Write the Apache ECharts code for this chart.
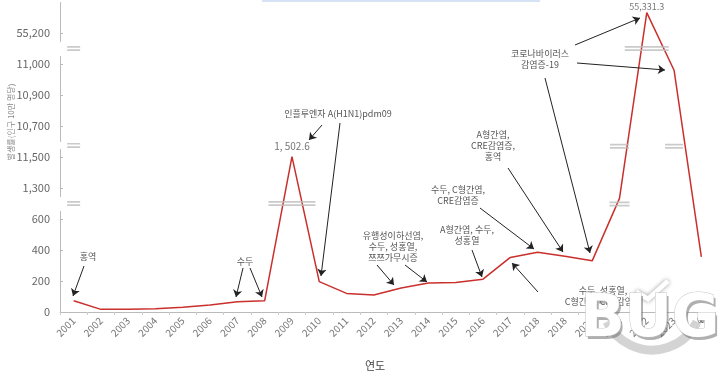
<!DOCTYPE html>
<html>
<head>
<meta charset="utf-8">
<script src="https://cdn.jsdelivr.net/npm/echarts@6/dist/echarts.min.js"></script>
<style>
  html, body { margin: 0; padding: 0; background: #fff; }
  #main { width: 723px; height: 377px; }
</style>
</head>
<body>
<div id="main"></div>
<script>
// 연도 (원본 그림의 표기 그대로)
var years = ['2001','2002','2003','2004','2005','2006','2007','2008','2009','2010','2011','2012',
             '2013','2014','2015','2016','2017','2018','2018','2020','2021','2022','2023','2024'];
// 값
var rates = [72, 17, 17, 21, 30, 45, 66, 73, 1502.6, 196, 120, 110,
             155, 187, 190, 212, 352, 385, 360, 330, 1150, 55331.3, 10960, 355];
// 점 위 라벨
var pointLabels = {8: '1, 502.6', 21: '55,331.3'};

// y축 눈금
var tickValues = [0, 200, 400, 600, 1300, 1500, 10600, 10800, 11000, 55200];
var tickLabels = ['0', '200', '400', '600', '1,300', '11,500', '10,700', '10,900', '11,000', '55,200'];

// 축 생략 구간
var axisBreaks = [
  {start: 650, end: 1250, gap: '5%'},
  {start: 1550, end: 10500, gap: '2.5%'},
  {start: 11050, end: 55150, gap: '5%'}
];
// 생략 표시(=) : [x 위치(범주 번호), 값, 폭]
var breakMarks = [
  [-0.5, 950, 13], [-0.5, 6025, 13], [-0.5, 33100, 13],
  [7.85, 950, 47], [19.9, 930, 20], [20.3, 5000, 19], [21.1, 33100, 44], [22.4, 5000, 18]
];

// 주석
var notes = [
  {text: '홍역', x: 88, y: 257},
  {text: '수두', x: 245, y: 262},
  {text: '인플루엔자 A(H1N1)pdm09', x: 338, y: 114},
  {text: '유행성이하선염,\n수두, 성홍열,\n쯔쯔가무시증', x: 393, y: 247},
  {text: 'A형간염, 수두,\n성홍열', x: 467, y: 235},
  {text: '수두, C형간염,\nCRE감염증', x: 458, y: 195},
  {text: 'A형간염,\nCRE감염증,\n홍역', x: 493, y: 146},
  {text: '수두, 성홍열,\nC형간염, CRE감염증', x: 603, y: 296},
  {text: '코로나바이러스\n감염증-19', x: 540, y: 59}
];
var arrows = [
  [[84, 266], [73, 296]],
  [[243, 268], [236, 297]],
  [[250, 268], [262, 297]],
  [[322, 125], [309, 140]],
  [[340, 123], [321, 276]],
  [[377, 265], [394, 285]],
  [[405, 265], [427, 282]],
  [[472, 250], [482, 277]],
  [[480, 208], [534, 249]],
  [[508, 168], [563, 252]],
  [[538, 292], [512, 263]],
  [[575, 45], [640, 18]],
  [[577, 63], [665, 70]],
  [[545, 78], [590, 253]]
];

var font = '"Noto Sans CJK KR", "Noto Sans", sans-serif';

var lineData = rates.map(function (v, i) {
  if (pointLabels[i]) {
    var lab = {show: true, formatter: pointLabels[i]};
    if (i === 21) {
      lab.distance = 1;
      lab.fontSize = 9;
      lab.lineHeight = 10;
    }
    return {value: v, label: lab};
  }
  return v;
});

var graphics = notes.map(function (n) {
  return {
    type: 'text', x: n.x, y: n.y, z: 10,
    style: {text: n.text, fill: '#555', font: '9px ' + font, align: 'center', verticalAlign: 'middle', lineHeight: 11}
  };
});
graphics.push({
  type: 'text', x: 375, y: 366,
  style: {text: '연도', fill: '#444', font: '11px ' + font, align: 'center', verticalAlign: 'middle'}
});
graphics.push({
  type: 'text', x: 11, y: 122, rotation: Math.PI / 2,
  style: {text: '발생률(인구 10만 명당)', fill: '#888', font: '8px ' + font, align: 'center', verticalAlign: 'middle'}
});
graphics.push({
  type: 'rect', shape: {x: 262, y: 0, width: 278, height: 2}, style: {fill: '#d5e3f4'}
});
// 워터마크
graphics.push({
  type: 'arc', z: 20,
  shape: {cx: 652, cy: 300, r: 50, startAngle: 0.45, endAngle: Math.PI - 0.45},
  style: {stroke: 'rgba(210,210,210,0.95)', lineWidth: 9, fill: null}
});
graphics.push({
  type: 'polyline', z: 21,
  shape: {points: [[636, 292], [648, 299], [668, 281]]},
  style: {stroke: '#fff', lineWidth: 5, shadowColor: 'rgba(0,0,0,0.4)', shadowBlur: 4}
});
graphics.push({
  type: 'text', x: 652, y: 324, z: 21,
  style: {text: 'BUG', fill: 'rgba(110,110,110,0.55)', font: 'bold 58px "DejaVu Sans", sans-serif',
          align: 'center', verticalAlign: 'middle'}
});
graphics.push({
  type: 'text', x: 650, y: 321, z: 22,
  style: {text: 'BUG', fill: '#fff', font: 'bold 58px "DejaVu Sans", sans-serif',
          align: 'center', verticalAlign: 'middle', stroke: 'rgba(190,190,190,0.9)', lineWidth: 1}
});

var myChart = echarts.init(document.getElementById('main'));
myChart.setOption({
  animation: false,
  backgroundColor: '#fff',
  grid: {left: 60, right: 8, top: 2, bottom: 65},
  xAxis: {
    type: 'category',
    data: years,
    axisLine: {lineStyle: {color: '#bbb'}},
    axisTick: {show: true, length: 3, lineStyle: {color: '#ccc'}},
    axisLabel: {rotate: 45, color: '#777', fontSize: 10, fontFamily: font, interval: 0, margin: 7}
  },
  yAxis: {
    type: 'value',
    min: 0,
    max: 55400,
    breaks: axisBreaks,
    breakArea: {show: false},
    axisLine: {show: true, lineStyle: {color: '#bbb'}},
    axisTick: {show: true, inside: true, length: 3, customValues: tickValues, lineStyle: {color: '#bbb'}},
    axisLabel: {
      customValues: tickValues, color: '#666', fontSize: 11, fontFamily: font, margin: 10,
      formatter: function (v) { return tickLabels[tickValues.indexOf(v)]; }
    },
    splitLine: {show: false}
  },
  series: [
    {
      type: 'line',
      data: lineData,
      symbol: 'circle',
      symbolSize: 1,
      showSymbol: true,
      itemStyle: {color: 'rgba(0,0,0,0)'},
      lineStyle: {color: '#c9302c', width: 1.5},
      label: {position: 'top', color: '#777', fontSize: 10, fontFamily: font, distance: 5},
      labelLayout: {hideOverlap: false},
      z: 3,
      markLine: {
        silent: true,
        symbol: ['none', 'arrow'],
        symbolSize: 7,
        label: {show: false},
        lineStyle: {color: '#222', width: 1, type: 'solid'},
        data: arrows.map(function (a) {
          return [{x: a[0][0], y: a[0][1]}, {x: a[1][0], y: a[1][1]}];
        })
      }
    },
    {
      type: 'scatter',
      data: breakMarks.map(function (m) { return {value: [m[0], m[1]], symbolSize: [m[2], 5]}; }),
      symbol: 'path://M0,0H20V2H0Z M0,4H20V6H0Z',
      itemStyle: {color: '#bdbdbd'},
      clip: false,
      silent: true,
      z: 4
    }
  ],
  graphic: graphics
});
</script>
</body>
</html>
